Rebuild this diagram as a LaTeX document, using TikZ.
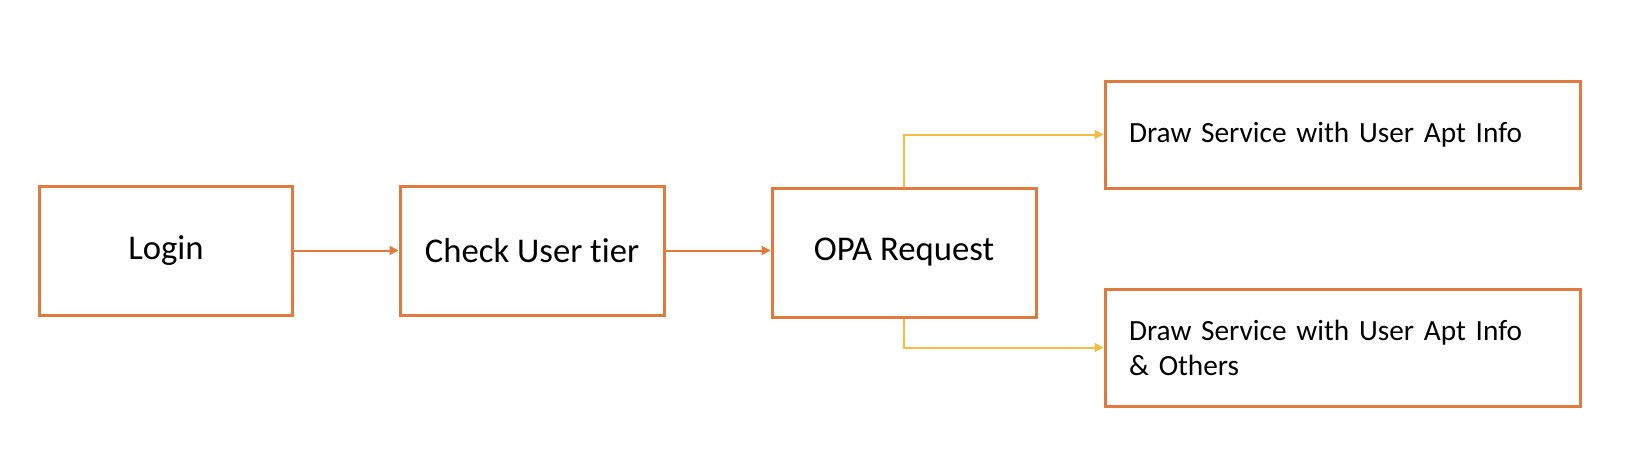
\documentclass[tikz,border=0pt]{standalone}
\usepackage{fontspec}
\setmainfont[Ligatures=NoCommon]{Carlito}
\usetikzlibrary{arrows.meta}
\definecolor{boxorange}{RGB}{224,122,61}
\definecolor{arrowyellow}{RGB}{245,189,64}
\begin{document}
\begin{tikzpicture}[x=1pt,y=-1pt,
  box/.style={draw=boxorange,line width=3pt,fill=white,inner sep=0pt,
    font=\fontsize{34.7}{42}\selectfont},
  sidebox/.style={draw=boxorange,line width=3pt,fill=white,inner xsep=24pt,inner ysep=0pt,
    text width=427pt,align=left,minimum width=475pt,
    font=\fontsize{29.3}{35}\selectfont},
  flow/.style={draw=boxorange,line width=2pt,-{Triangle[length=9pt,width=9pt]}},
  branch/.style={draw=arrowyellow,line width=2pt,-{Triangle[length=9pt,width=9pt]}}]
\useasboundingbox[fill=white] (0,0) rectangle (1630,455);
\node[box,minimum width=252.5pt,minimum height=129pt] (login) at (166,250.5) {Login};
\node[box,minimum width=264pt,minimum height=129pt] (check) at (532,250.5) {Check User tier};
\node[box,minimum width=264pt,minimum height=129pt] (opa) at (904,252.5) {OPA Request};
\node[sidebox,minimum height=107pt] (top) at (1342.5,134.5) {Draw Service with User Apt Info};
\node[sidebox,minimum height=117pt] (bot) at (1342.5,347.5) {Draw Service with User Apt Info\\ \& Others};
\draw[flow] (login.east) -- (check.west);
\draw[flow] (check.east) -- (check.east -| opa.west);
\draw[branch] (opa.north) |- (top.west);
\draw[branch] (opa.south) |- (bot.west);
\end{tikzpicture}
\end{document}
